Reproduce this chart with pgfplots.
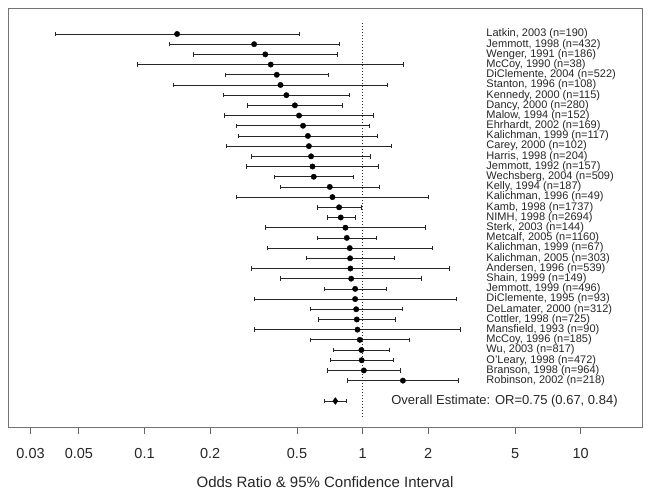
\documentclass[border=0pt]{standalone}
\usepackage{fontspec}
\setmainfont{Liberation Sans}
\usepackage{pgfplots}
\usepackage{pgfplotstable}
\pgfplotsset{compat=1.18}

\pgfplotstableread{
y or lo hi
35 0.141 0.039 0.510
34 0.318 0.130 0.780
33 0.358 0.168 0.766
32 0.379 0.093 1.54
31 0.404 0.235 0.695
30 0.420 0.136 1.296
29 0.447 0.230 0.870
28 0.489 0.296 0.808
27 0.511 0.232 1.121
26 0.533 0.264 1.079
25 0.561 0.269 1.169
24 0.567 0.237 1.361
23 0.580 0.310 1.086
22 0.589 0.293 1.18
21 0.597 0.394 0.907
20 0.707 0.421 1.194
19 0.727 0.264 2.01
18 0.780 0.623 0.99
17 0.794 0.687 0.924
16 0.834 0.358 1.94
15 0.846 0.618 1.157
14 0.873 0.366 2.09
13 0.876 0.551 1.40
12 0.879 0.310 2.50
11 0.886 0.421 1.86
10 0.924 0.668 1.278
9 0.924 0.319 2.68
8 0.934 0.574 1.52
7 0.940 0.627 1.41
6 0.947 0.318 2.82
5 0.971 0.574 1.64
4 0.987 0.735 1.327
3 0.990 0.710 1.385
2 1.013 0.692 1.49
1 1.53 0.852 2.76
}\studies

\pgfplotstableread{
y or lo hi
-1 0.75 0.67 0.84
}\overall

\begin{document}
\begin{tikzpicture}
\begin{axis}[
  scale only axis, width=634pt, height=419pt,
  xmode=log, xmin=0.02365, xmax=19.1, ymin=-3.55, ymax=37.55,
  axis line style={black!55, line width=0.9pt},
  xtick={0.03,0.05,0.1,0.2,0.5,1,2,5,10},
  xticklabels={0.03,0.05,0.1,0.2,0.5,1,2,5,10},
  xminorticks=false,
  ytick=\empty,
  xtick pos=bottom,
  tick align=outside,
  major tick length=7pt,
  tick style={black!60, line width=0.9pt},
  xticklabel style={font=\fontsize{14.5}{16}\selectfont, text=black!85, yshift=-11pt},
  xlabel={Odds Ratio \& 95\% Confidence Interval},
  xlabel style={font=\fontsize{15}{17}\selectfont, text=black!85, at={(axis description cs:0.5,0)}, anchor=center, yshift=-55pt},
  clip=false,
]
\addplot[black!80, dash pattern=on 1pt off 2pt, line width=0.8pt] coordinates {(1,-2.6) (1,36.1)};
\addplot[black, only marks, mark=*, mark size=2.7pt,
  error bars/.cd, x dir=both, x explicit,
  error bar style={black!85, line width=0.7pt},
  error mark options={black!85, line width=0.7pt, mark size=2.2pt, rotate=90}]
  table[x=or, y=y, x error minus expr=\thisrow{or}-\thisrow{lo}, x error plus expr=\thisrow{hi}-\thisrow{or}] {\studies};
\addplot[black, only marks, mark=diamond*, mark size=3.4pt,
  error bars/.cd, x dir=both, x explicit,
  error bar style={black!85, line width=0.7pt},
  error mark options={black!85, line width=0.7pt, mark size=2.2pt, rotate=90}]
  table[x=or, y=y, x error minus expr=\thisrow{or}-\thisrow{lo}, x error plus expr=\thisrow{hi}-\thisrow{or}] {\overall};
\begin{scope}[every node/.style={anchor=west, inner sep=0pt, font=\fontsize{11}{12}\selectfont, text=black!85}]
\node at (axis cs:3.69,35) {Latkin, 2003 (n=190)};
\node at (axis cs:3.69,34) {Jemmott, 1998 (n=432)};
\node at (axis cs:3.69,33) {Wenger, 1991 (n=186)};
\node at (axis cs:3.69,32) {McCoy, 1990 (n=38)};
\node at (axis cs:3.69,31) {DiClemente, 2004 (n=522)};
\node at (axis cs:3.69,30) {Stanton, 1996 (n=108)};
\node at (axis cs:3.69,29) {Kennedy, 2000 (n=115)};
\node at (axis cs:3.69,28) {Dancy, 2000 (n=280)};
\node at (axis cs:3.69,27) {Malow, 1994 (n=152)};
\node at (axis cs:3.69,26) {Ehrhardt, 2002 (n=169)};
\node at (axis cs:3.69,25) {Kalichman, 1999 (n=117)};
\node at (axis cs:3.69,24) {Carey, 2000 (n=102)};
\node at (axis cs:3.69,23) {Harris, 1998 (n=204)};
\node at (axis cs:3.69,22) {Jemmott, 1992 (n=157)};
\node at (axis cs:3.69,21) {Wechsberg, 2004 (n=509)};
\node at (axis cs:3.69,20) {Kelly, 1994 (n=187)};
\node at (axis cs:3.69,19) {Kalichman, 1996 (n=49)};
\node at (axis cs:3.69,18) {Kamb, 1998 (n=1737)};
\node at (axis cs:3.69,17) {NIMH, 1998 (n=2694)};
\node at (axis cs:3.69,16) {Sterk, 2003 (n=144)};
\node at (axis cs:3.69,15) {Metcalf, 2005 (n=1160)};
\node at (axis cs:3.69,14) {Kalichman, 1999 (n=67)};
\node at (axis cs:3.69,13) {Kalichman, 2005 (n=303)};
\node at (axis cs:3.69,12) {Andersen, 1996 (n=539)};
\node at (axis cs:3.69,11) {Shain, 1999 (n=149)};
\node at (axis cs:3.69,10) {Jemmott, 1999 (n=496)};
\node at (axis cs:3.69,9) {DiClemente, 1995 (n=93)};
\node at (axis cs:3.69,8) {DeLamater, 2000 (n=312)};
\node at (axis cs:3.69,7) {Cottler, 1998 (n=725)};
\node at (axis cs:3.69,6) {Mansfield, 1993 (n=90)};
\node at (axis cs:3.69,5) {McCoy, 1996 (n=185)};
\node at (axis cs:3.69,4) {Wu, 2003 (n=817)};
\node at (axis cs:3.69,3) {O'Leary, 1998 (n=472)};
\node at (axis cs:3.69,2) {Branson, 1998 (n=964)};
\node at (axis cs:3.69,1) {Robinson, 2002 (n=218)};
\node[font=\fontsize{13}{15}\selectfont] at (axis cs:1.351,-1) {Overall Estimate: OR=0.75 (0.67, 0.84)};
\end{scope}
\end{axis}
\path ([shift={(-8pt,8pt)}]current axis.north west) rectangle ([shift={(12pt,-75pt)}]current axis.south east);
\end{tikzpicture}
\end{document}
